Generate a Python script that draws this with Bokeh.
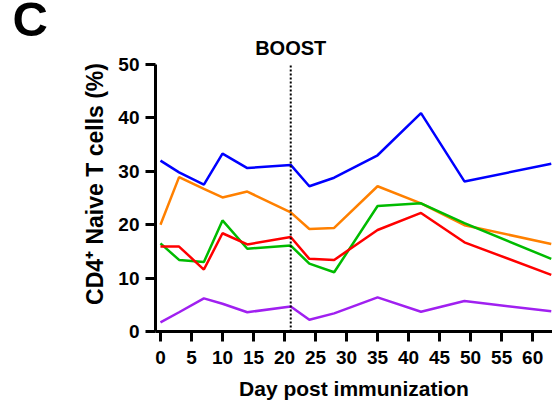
from bokeh.plotting import figure
from bokeh.models import Range1d, FixedTicker
from bokeh.core.properties import value
from bokeh.embed import file_html
from bokeh.resources import INLINE

days = [0, 3, 7, 10, 14, 21, 24, 28, 35, 42, 49, 63]
blue = [32.0, 29.8, 27.5, 33.3, 30.6, 31.2, 27.2, 28.8, 33.0, 40.9, 28.1, 31.4]
orange = [20.0, 28.9, 26.7, 25.1, 26.2, 22.3, 19.2, 19.4, 27.2, 24.0, 19.9, 16.4]
green = [16.5, 13.4, 13.0, 20.8, 15.5, 16.1, 12.7, 11.1, 23.5, 24.0, 20.3, 13.6]
red = [15.9, 15.9, 11.6, 18.4, 16.3, 17.7, 13.6, 13.4, 19.0, 22.2, 16.7, 10.6]
purple = [1.7, 3.6, 6.2, 5.2, 3.6, 4.7, 2.2, 3.4, 6.4, 3.7, 5.7, 3.8]

series = [blue, orange, green, red, purple]
colors = ["#0000FF", "#FF8000", "#00BB00", "#FF0000", "#A020F0"]

x_ticks = [0, 5, 10, 15, 20, 25, 30, 35, 40, 45, 50, 55, 60]
y_ticks = [0, 10, 20, 30, 40, 50]
boost_day = 21
boost_label_y = 53.0
panel_letter = "C"

FONT = "Liberation Sans"

p = figure(width=552, height=402, output_backend="svg", toolbar_location=None,
           x_range=Range1d(-0.8, 63.2), y_range=Range1d(0, 55.24))
p.min_border_left = 155
p.min_border_top = 36
p.min_border_bottom = 71
p.min_border_right = 0
p.outline_line_color = None
p.xgrid.visible = False
p.ygrid.visible = False
p.background_fill_color = "white"
p.border_fill_color = "white"

p.title.text = panel_letter
p.title.align = "left"
p.title.vertical_align = "top"
p.title.offset = -143
p.title.standoff = -23
p.title.text_font = FONT
p.title.text_font_style = "bold"
p.title.text_font_size = "49px"
p.title.text_color = "black"

for vals, c in zip(series, colors):
    p.line(days, vals, line_color=c, line_width=2.5)

p.segment(x0=[boost_day], y0=[y_ticks[0]], x1=[boost_day], y1=[y_ticks[-1]],
          line_color="black", line_width=2, line_dash="2 2")
p.text(x=[boost_day], y=[boost_label_y], text=["BOOST"], text_align="center",
       text_baseline="middle", text_font=value(FONT), text_font_style="bold",
       text_font_size="20px", text_color="black")

for ax in (p.xaxis[0], p.yaxis[0]):
    ax.axis_line_width = 3
    ax.major_tick_line_width = 3
    ax.minor_tick_line_color = None
    ax.major_tick_in = 0
    ax.major_tick_out = 10
    ax.major_label_text_font = FONT
    ax.major_label_text_font_style = "bold"
    ax.major_label_text_font_size = "19px"
    ax.major_label_text_color = "black"
    ax.axis_label_text_font = FONT
    ax.axis_label_text_font_style = "bold"
    ax.axis_label_text_color = "black"

p.yaxis.bounds = (y_ticks[0], y_ticks[-1])
p.xaxis.ticker = FixedTicker(ticks=x_ticks)
p.yaxis.ticker = FixedTicker(ticks=y_ticks)
p.xaxis.major_label_standoff = 9
p.yaxis.major_label_standoff = 6
p.xaxis.axis_label = "Day post immunization"
p.yaxis.axis_label = "CD4\u207a Naive T cells (%)"
p.xaxis.axis_label_text_font_size = "21px"
p.yaxis.axis_label_text_font_size = "23px"
p.xaxis.axis_label_standoff = 10
p.yaxis.axis_label_standoff = 7

open("out.html", "w").write(file_html(p, INLINE))
